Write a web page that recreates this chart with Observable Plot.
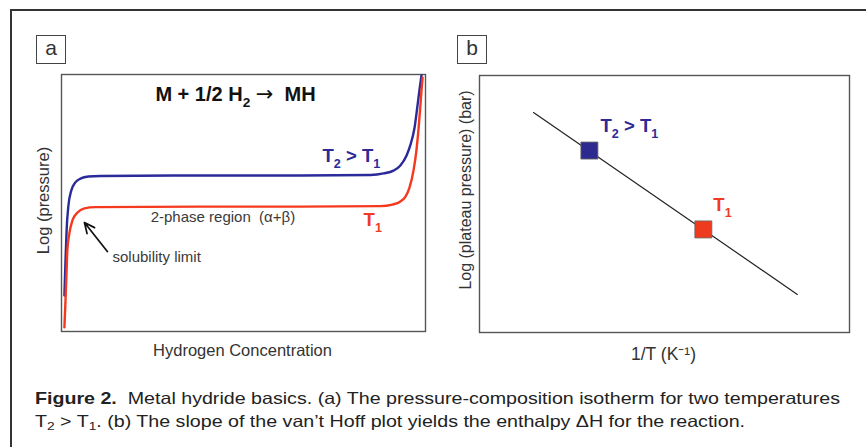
<!DOCTYPE html>
<html>
<head>
<meta charset="utf-8">
<script src="https://cdn.jsdelivr.net/npm/d3@7"></script>
<script src="https://cdn.jsdelivr.net/npm/@observablehq/plot@0.6"></script>
<style>
  html, body { margin: 0; padding: 0; background: #fff; }
  #page { position: relative; width: 866px; height: 447px; overflow: hidden; font-family: "Liberation Sans", Arial, Helvetica, sans-serif; }
  #outer { position: absolute; left: 10px; top: 9px; width: 900px; height: 500px; border-top: 2px solid #333; border-left: 2px solid #333; box-sizing: border-box; }
  .tag { position: absolute; width: 30px; height: 29px; border: 1.5px solid #444; box-sizing: border-box; font-size: 21px; line-height: 24px; text-align: center; color: #333; background: #fff; }
  .panel { position: absolute; }
  #caption { position: absolute; left: 35px; top: 387px; font-size: 16.5px; line-height: 22.5px; color: #222; white-space: nowrap; transform-origin: 0 0; }
  #caption sub { font-size: 70%; line-height: 0; vertical-align: -0.25em; }
</style>
</head>
<body>
<div id="page">
  <div id="outer"></div>
  <div class="panel" id="pa" style="left:20px;top:70px;"></div>
  <div class="panel" id="pb" style="left:445px;top:70px;"></div>
  <div class="tag" style="left:36px;top:35px;">a</div>
  <div class="tag" style="left:457px;top:35px;">b</div>
  <div id="caption"><span id="cap1"><b>Figure 2.</b>&nbsp; Metal hydride basics. (a) The pressure-composition isotherm for two temperatures</span><br>T<sub>2</sub> &gt; T<sub>1</sub>. (b) The slope of the van’t Hoff plot yields the enthalpy ΔH for the reaction.</div>
</div>
<script>
// ---- Panel a: pressure-composition isotherms ----
const concT2 = [0.008, 0.011, 0.014, 0.019, 0.027, 0.038, 0.052, 0.074, 0.107, 0.382, 0.657, 0.849, 0.885, 0.912, 0.931, 0.948, 0.959, 0.970, 0.978, 0.984, 0.989];
const logPT2 = [0.140, 0.276, 0.393, 0.490, 0.549, 0.580, 0.595, 0.603, 0.605, 0.607, 0.607, 0.609, 0.615, 0.626, 0.646, 0.685, 0.728, 0.794, 0.879, 0.946, 0.996];
const concT1 = [0.008, 0.011, 0.014, 0.016, 0.022, 0.030, 0.044, 0.063, 0.093, 0.382, 0.657, 0.876, 0.909, 0.931, 0.945, 0.956, 0.967, 0.975, 0.981, 0.986, 0.989, 0.992];
const logPT1 = [0.016, 0.121, 0.237, 0.315, 0.385, 0.432, 0.463, 0.479, 0.484, 0.486, 0.486, 0.488, 0.494, 0.506, 0.525, 0.560, 0.626, 0.704, 0.790, 0.879, 0.938, 0.988];

// annotation anchors (data units)
const labelsA = [
  {x: 0.478, y: 0.922, text: "M + 1/2 H_2 \u2192 \u00a0MH", anchor: "middle", size: 20, weight: "bold", color: "#111"},
  {x: 0.717, y: 0.681, text: "T_2 > T_1", anchor: "start", size: 18.5, weight: "bold", color: "#2b2a96"},
  {x: 0.830, y: 0.434, text: "T_1", anchor: "start", size: 18.5, weight: "bold", color: "#f03a22"},
  {x: 0.245, y: 0.444, text: "2-phase region \u00a0(\u03b1+\u03b2)", anchor: "start", size: 15, weight: "normal", color: "#3a3a3a"},
  {x: 0.140, y: 0.288, text: "solubility limit", anchor: "start", size: 15, weight: "normal", color: "#3a3a3a"}
];
const arrowA = [{x1: 0.126, y1: 0.311, x2: 0.063, y2: 0.424}];

// ---- Panel b: van't Hoff plot ----
const invT = [0.146, 0.859];
const logPlateau = [0.856, 0.148];
const pointInvT = [0.297, 0.605];
const pointLogP = [0.708, 0.401];
const pointColor = ["#2d2a8f", "#ee3a1f"];
const labelsB = [
  {x: 0.327, y: 0.804, text: "T_2 > T_1", color: "#2b2a96"},
  {x: 0.632, y: 0.496, text: "T_1", color: "#f03a22"}
];

const curveA = [
  ...concT2.map((c, i) => ({c, p: logPT2[i], s: "T2"})),
  ...concT1.map((c, i) => ({c, p: logPT1[i], s: "T1"}))
];

// turn "_x" into subscript tspans; render arrows with a long thin glyph
function subify(svg) {
  d3.select(svg).selectAll("text").each(function () {
    const t = this.textContent;
    if (!t.includes("_") && !t.includes("\u2192")) return;
    const sel = d3.select(this);
    const fs = parseFloat(sel.attr("font-size")) || parseFloat(d3.select(this.parentNode).attr("font-size")) || 16;
    sel.text(null);
    let pending = 0;
    t.split(/(_\w|\u2192)/).forEach(p => {
      if (!p) return;
      if (p.startsWith("_")) {
        sel.append("tspan").attr("dy", 0.32 * fs).attr("font-size", 0.68 * fs).text(p.slice(1));
        pending = -0.32 * fs;
      } else {
        const ts = sel.append("tspan").text(p);
        if (pending) { ts.attr("dy", pending); pending = 0; }
        if (p === "\u2192") ts.attr("font-family", '"DejaVu Sans", sans-serif').attr("font-weight", "normal").attr("font-size", fs * 1.05);
      }
    });
  });
}

const font = '"Liberation Sans", Arial, Helvetica, sans-serif';

const plotA = Plot.plot({
  width: 420, height: 300,
  marginLeft: 41, marginRight: 15, marginTop: 4, marginBottom: 39,
  style: {fontFamily: font, background: "transparent", overflow: "visible"},
  x: {domain: [0, 1], axis: null},
  y: {domain: [0, 1], axis: null},
  marks: [
    Plot.frame({stroke: "#555", strokeWidth: 1.4}),
    Plot.line(curveA, {x: "c", y: "p", z: "s", stroke: d => d.s === "T2" ? "#2b2a9a" : "#f5391f", curve: "monotone-x", strokeWidth: 2.4}),
    ...labelsA.map(l => Plot.text([l], {x: "x", y: "y", text: "text", textAnchor: l.anchor, fontSize: l.size, fontWeight: l.weight, fill: l.color})),
    Plot.arrow(arrowA, {x1: "x1", y1: "y1", x2: "x2", y2: "y2", stroke: "#111", strokeWidth: 1.7, headLength: 10, headAngle: 50}),
    Plot.text(["Log (pressure)"], {frameAnchor: "left", textAnchor: "middle", lineAnchor: "middle", rotate: -90, dx: -17.5, dy: -2.5, fontSize: 16.5, fill: "#333"}),
    Plot.text(["Hydrogen Concentration"], {frameAnchor: "bottom", textAnchor: "middle", lineAnchor: "middle", dy: 19.5, dx: -1, fontSize: 16.5, fill: "#333"})
  ]
});
subify(plotA);
document.getElementById("pa").append(plotA);

const lineB = invT.map((v, i) => ({x: v, y: logPlateau[i]}));
const ptsB = pointInvT.map((v, i) => ({x: v, y: pointLogP[i], c: pointColor[i]}));

const plotB = Plot.plot({
  width: 420, height: 300,
  marginLeft: 34, marginRight: 16, marginTop: 5, marginBottom: 38,
  style: {fontFamily: font, background: "transparent", overflow: "visible"},
  x: {domain: [0, 1], axis: null},
  y: {domain: [0, 1], axis: null},
  marks: [
    Plot.frame({stroke: "#555", strokeWidth: 1.4}),
    Plot.line(lineB, {x: "x", y: "y", stroke: "#222", strokeWidth: 1.2}),
    Plot.dot(ptsB, {x: "x", y: "y", symbol: "square", r: 9.6, fill: "c", stroke: "#666", strokeWidth: 0.8}),
    ...labelsB.map(l => Plot.text([l], {x: "x", y: "y", text: "text", textAnchor: "start", fontSize: 18.5, fontWeight: "bold", fill: l.color})),
    Plot.text(["Log (plateau pressure) (bar)"], {frameAnchor: "left", textAnchor: "middle", lineAnchor: "middle", rotate: -90, dx: -14, dy: -14, fontSize: 16, fill: "#333"}),
    Plot.text(["1/T (K\u207b\u00b9)"], {frameAnchor: "bottom", textAnchor: "middle", lineAnchor: "middle", dy: 22, dx: -1, fontSize: 17.5, fill: "#333"})
  ]
});
subify(plotB);
document.getElementById("pb").append(plotB);

// stretch the caption horizontally so the first line spans the same width as the figure's caption
const cap = document.getElementById("caption");
const w1 = document.getElementById("cap1").getBoundingClientRect().width;
cap.style.transform = `scaleX(${805 / w1})`;
</script>
</body>
</html>
